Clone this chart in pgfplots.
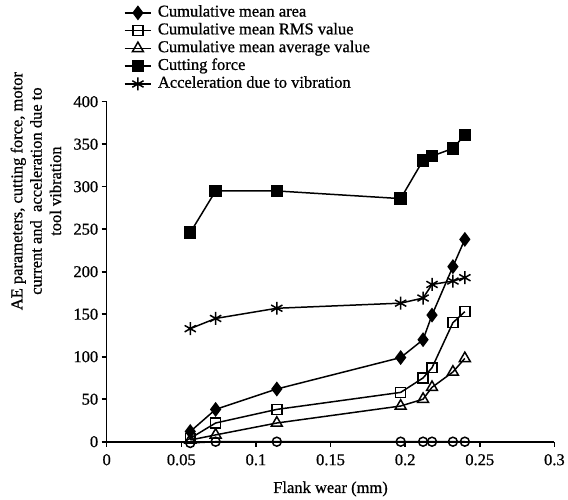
\documentclass[border=0pt]{standalone}
\usepackage{fontspec}
\setmainfont{Liberation Serif}[FakeBold=0.8]
\usepackage{pgfplots}
\usepackage{pgfplotstable}
\pgfplotsset{compat=1.18}
\pgfplotstableread{
x      area  rms  avg  force  accel  motor
0.056  12    4    2    246    133    -1.5
0.073  38    22   8    295    145    0
0.114  62    38   22   295    157    0
0.197  99    58   42   286    163    0
0.212  120   75   50   331    169    0
0.218  149   87   64   336    185    0
0.232  206   140  82   345    189    0
0.240  238   153  98   361    193    0
}\data
\begin{document}
\begin{tikzpicture}[font=\fontsize{16.6}{19.5}\selectfont]
\begin{axis}[
  scale only axis, width=449bp, height=341bp,
  xmin=0, xmax=0.3, ymin=0, ymax=400,
  axis lines*=left,
  axis line style={line width=1.6bp, black},
  xtick={0,0.05,0.1,0.15,0.2,0.25,0.3},
  xticklabels={0,0.05,0.1,0.15,0.2,0.25,0.3},
  ytick={0,50,100,150,200,250,300,350,400},
  /pgf/number format/assume math mode=true,
  xticklabel style={yshift=-4bp},
  tick align=outside, major tick length=5bp,
  tick style={line width=1.6bp, black},
  clip=false,
  xlabel={Flank wear (mm)},
  xlabel style={at={(axis description cs:0.5,-0.139)}, anchor=center},
  ylabel={AE parameters, cutting force, motor\\current and\ \ acceleration due to\\tool vibration},
  ylabel style={align=center, at={(axis description cs:-0.158,0.737)}, anchor=center},
  every axis plot/.append style={black, line width=1.5bp, mark options={solid, line width=1.5bp}},
  legend cell align=left,
  legend style={at={(axis description cs:0.038,1.286)}, anchor=north west, draw=none, fill=none,
    inner sep=0pt, nodes={inner sep=1pt, text height=11pt, text depth=3.5pt}, row sep=1.4pt,
    /tikz/every odd column/.style={column sep=5bp}},
  legend image code/.code={\draw[mark repeat=2,mark phase=2] plot coordinates {(0cm,0cm) (0.47cm,0cm) (0.94cm,0cm)};},
]
\addplot[mark=o, mark size=4.5bp, forget plot] table[x=x,y=motor]{\data};
\addplot[mark=diamond*, mark size=6.3bp] table[x=x,y=area]{\data};
\addlegendentry{Cumulative mean area}
\addplot[mark=square, mark size=5bp, mark options={fill=white}] table[x=x,y=rms]{\data};
\addlegendentry{Cumulative mean RMS value}
\addplot[mark=triangle, mark size=6.3bp, mark options={fill=white}] table[x=x,y=avg]{\data};
\addlegendentry{Cumulative mean average value}
\addplot[mark=square*, mark size=5.5bp] table[x=x,y=force]{\data};
\addlegendentry{Cutting force}
\addplot[mark=asterisk, mark size=6.5bp] table[x=x,y=accel]{\data};
\addlegendentry{Acceleration due to vibration}
\path (axis description cs:-0.2383,-0.1672) rectangle (axis description cs:1.0267,1.2991);
\end{axis}
\end{tikzpicture}
\end{document}
